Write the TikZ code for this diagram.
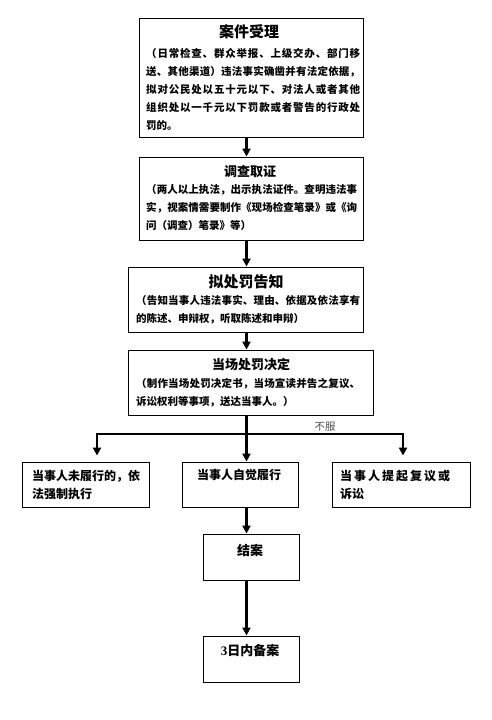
\documentclass[tikz,border=0pt]{standalone}
\usepackage{fontspec}
\newfontfamily\cjk{Noto Sans CJK SC}
\newfontfamily\numf{Liberation Serif}
\usetikzlibrary{arrows.meta}
\let\jend\relax
\def\jfirst#1{#1\jrest}
\def\jrest#1{\ifx\jend#1\else\hfil#1\expandafter\jrest\fi}
\newcommand\jl[2]{\makebox[#1][s]{\jfirst#2\jend}}
\begin{document}
\begin{tikzpicture}[x=1pt,y=-1pt,
  box/.style={draw,line width=0.9pt,inner sep=0pt},
  conn/.style={line width=2.6pt},
  arr/.style={conn,-{Triangle[width=8pt,length=8pt]}},
  ttlA/.style={font=\cjk\bfseries\fontsize{15}{18}\selectfont,inner sep=0pt,anchor=center},
  ttlB/.style={font=\cjk\bfseries\fontsize{13}{16}\selectfont,inner sep=0pt,anchor=center},
  body/.style={font=\cjk\bfseries\fontsize{10.5}{18}\selectfont,align=left,inner sep=0pt,anchor=north west},
  lbl/.style={font=\cjk\bfseries\fontsize{12}{18}\selectfont,align=left,inner sep=0pt,anchor=north west}
]
\useasboundingbox[fill=white] (0,0) rectangle (491,720);

% boxes
\node[box,minimum width=224pt,minimum height=119pt] (b1) at (251,77.5) {};
\node[box,minimum width=224pt,minimum height=83pt] (b2) at (251,198.5) {};
\node[box,minimum width=235pt,minimum height=65pt] (b3) at (245.5,299.5) {};
\node[box,minimum width=245pt,minimum height=65pt] (b4) at (250.5,382.5) {};
\node[box,minimum width=127pt,minimum height=45pt] (L) at (85.5,484.5) {};
\node[box,minimum width=116pt,minimum height=45pt] (M) at (240,484.5) {};
\node[box,minimum width=138pt,minimum height=45pt] (R) at (401,484.5) {};
\node[box,minimum width=96pt,minimum height=46pt] (J) at (251,557) {};
\node[box,minimum width=96pt,minimum height=46pt] (K) at (251,659) {};

% texts
\node[ttlA] (t1) at (249,32) {案件受理};
\node[body] (d1) at (146,48) {\jl{214pt}{（日常检查、群众举报、上级交办、部门移}\\
\jl{214pt}{送、其他渠道）违法事实确凿并有法定依据，}\\
\jl{214pt}{拟对公民处以五十元以下、对法人或者其他}\\
\jl{214pt}{组织处以一千元以下罚款或者警告的行政处}\\
罚的。};

\node[ttlB] (t2) at (250,172) {调查取证};
\node[body] (d2) at (146,184) {\jl{211pt}{（两人以上执法，出示执法证件。查明违法事}\\
\jl{211pt}{实，视案情需要制作《现场检查笔录》或《询}\\
问（调查）笔录》等）};

\node[ttlA] (t3) at (246,282) {拟处罚告知};
\node[body] (d3) at (136,295) {\jl{224pt}{（告知当事人违法事实、理由、依据及依法享有}\\
的陈述、申辩权，听取陈述和申辩）};

\node[ttlB] (t4) at (251,365) {当场处罚决定};
\node[body] (d4) at (136,378) {\jl{224pt}{（制作当场处罚决定书，当场宣读并告之复议、}\\
诉讼权利等事项，送达当事人。）};

\node[lbl] (tl) at (32,469.5) {当事人未履行的，依\\法强制执行};
\node[lbl] (tm) at (197,469.5) {当事人自觉履行};
\node[lbl] (tr) at (340,469.5) {\jl{110pt}{当事人提起复议或}\\诉讼};
\node[ttlB] (tj) at (250,550) {结案};
\node[ttlB] (tk) at (250,650) {{\numf\bfseries 3}日内备案};

\node[font=\cjk\fontsize{10.5}{12}\selectfont,text=black!70,inner sep=0pt] (nf) at (325,427) {不服};

% connectors
\coordinate (sp) at (246.5,0);
\coordinate (hl) at (97,434);
\coordinate (hr) at (403,434);
\draw[arr] (b1.south -| sp) -- (b2.north -| sp);
\draw[arr] (b2.south -| sp) -- (b3.north -| sp);
\draw[arr] (b3.south -| sp) -- (b4.north -| sp);
\draw[arr] (b4.south -| sp) -- (M.north -| sp);
\draw[arr,shorten >=6pt] (hr) -- (hl) -- (L.north -| hl);
\draw[arr,line cap=rect,shorten >=6pt] (hr) -- (R.north -| hr);
\draw[arr] (M.south -| sp) -- (J.north -| sp);
\draw[arr] (J.south -| sp) -- (K.north -| sp);
\end{tikzpicture}
\end{document}
